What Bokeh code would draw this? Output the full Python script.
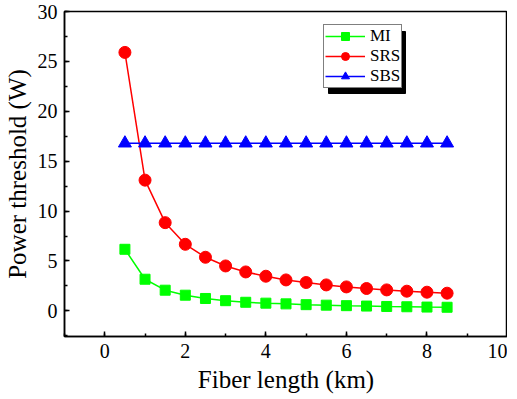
from bokeh.plotting import figure
from bokeh.models import SingleIntervalTicker, Legend, LegendItem, BoxAnnotation
from bokeh.embed import file_html
from bokeh.resources import INLINE

# Data
fiber_length = [0.5, 1.0, 1.5, 2.0, 2.5, 3.0, 3.5, 4.0, 4.5, 5.0, 5.5, 6.0, 6.5, 7.0, 7.5, 8.0, 8.5]
mi_threshold = [6.17, 3.17, 2.07, 1.57, 1.24, 1.02, 0.86, 0.77, 0.70, 0.62, 0.57, 0.52, 0.48, 0.44, 0.41, 0.38, 0.36]
srs_threshold = [25.9, 13.1, 8.84, 6.67, 5.37, 4.50, 3.90, 3.47, 3.10, 2.84, 2.60, 2.40, 2.24, 2.10, 1.97, 1.87, 1.77]
sbs_threshold = [16.8] * 17
series_names = ["MI", "SRS", "SBS"]

FONT = "'Liberation Serif', 'Times New Roman', serif"
X0, X1 = -1, 10
Y0, Y1 = -2.57, 30
FW, FH = 443, 325

p = figure(frame_width=FW, frame_height=FH, x_range=(X0, X1), y_range=(Y0, Y1),
           output_backend="svg", toolbar_location=None,
           min_border_left=56, min_border_right=0, min_border_top=11, min_border_bottom=0)
p.xgrid.visible = False
p.ygrid.visible = False
p.outline_line_color = "black"
p.outline_line_width = 1.5
p.background_fill_color = "white"
p.border_fill_color = "white"

p.xaxis.ticker = SingleIntervalTicker(interval=2, num_minor_ticks=2)
p.yaxis.ticker = SingleIntervalTicker(interval=5, num_minor_ticks=2)
for ax in (p.xaxis[0], p.yaxis[0]):
    ax.axis_line_color = "black"
    ax.axis_line_width = 1.5
    ax.major_tick_in = 5
    ax.major_tick_out = 0
    ax.minor_tick_in = 3
    ax.minor_tick_out = 0
    ax.major_tick_line_width = 1.5
    ax.minor_tick_line_width = 1.5
    ax.major_label_text_font = FONT
    ax.major_label_text_font_size = "20px"
    ax.major_label_text_color = "black"
    ax.axis_label_text_font = FONT
    ax.axis_label_text_font_size = "25px"
    ax.axis_label_text_font_style = "normal"
    ax.axis_label_text_color = "black"
p.xaxis.axis_label = "Fiber length (km)"
p.yaxis.axis_label = "Power threshold (W)"
p.xaxis.major_label_standoff = 7
p.yaxis.major_label_standoff = 7
p.xaxis.axis_label_standoff = 5
p.yaxis.axis_label_standoff = 4

mi_line = p.line(fiber_length, mi_threshold, line_color="#00FF00", line_width=1.5)
mi_mark = p.scatter(fiber_length, mi_threshold, marker="square", size=10,
                    fill_color="#00FF00", line_color="#00FF00")
srs_line = p.line(fiber_length, srs_threshold, line_color="#FF0000", line_width=1.5)
srs_mark = p.scatter(fiber_length, srs_threshold, marker="circle", size=12,
                     fill_color="#FF0000", line_color="#FF0000")
sbs_line = p.line(fiber_length, sbs_threshold, line_color="#0000FF", line_width=1.5)
sbs_mark = p.scatter(fiber_length, sbs_threshold, marker="triangle", size=13,
                     fill_color="#0000FF", line_color="#0000FF")

# legend geometry (screen px from the frame's bottom-left corner)
LEG_X, LEG_Y = 259, 248
LEG_W, LEG_H = 77, 62
SHADOW = 5
px_x = FW / (X1 - X0)
px_y = FH / (Y1 - Y0)
shadow = BoxAnnotation(
    left=X0 + (LEG_X + SHADOW) / px_x, right=X0 + (LEG_X + SHADOW + LEG_W) / px_x,
    bottom=Y0 + (LEG_Y - SHADOW) / px_y, top=Y0 + (LEG_Y - SHADOW + LEG_H) / px_y,
    fill_color="black", fill_alpha=1.0, line_color="black", line_alpha=1.0)
p.add_layout(shadow)

legend = Legend(items=[
    LegendItem(label=series_names[0], renderers=[mi_line, mi_mark]),
    LegendItem(label=series_names[1], renderers=[srs_line, srs_mark]),
    LegendItem(label=series_names[2], renderers=[sbs_line, sbs_mark]),
], location=(LEG_X, LEG_Y))
legend.label_text_font = FONT
legend.label_text_font_size = "17px"
legend.label_text_color = "black"
legend.glyph_width = 40
legend.glyph_height = 20
legend.label_height = 20
legend.spacing = 0
legend.padding = 1
legend.margin = 0
legend.label_standoff = 5
legend.border_line_color = "black"
legend.border_line_width = 1
legend.background_fill_color = "white"
legend.background_fill_alpha = 1.0
p.add_layout(legend, "center")

open("out.html", "w").write(file_html(p, INLINE))
